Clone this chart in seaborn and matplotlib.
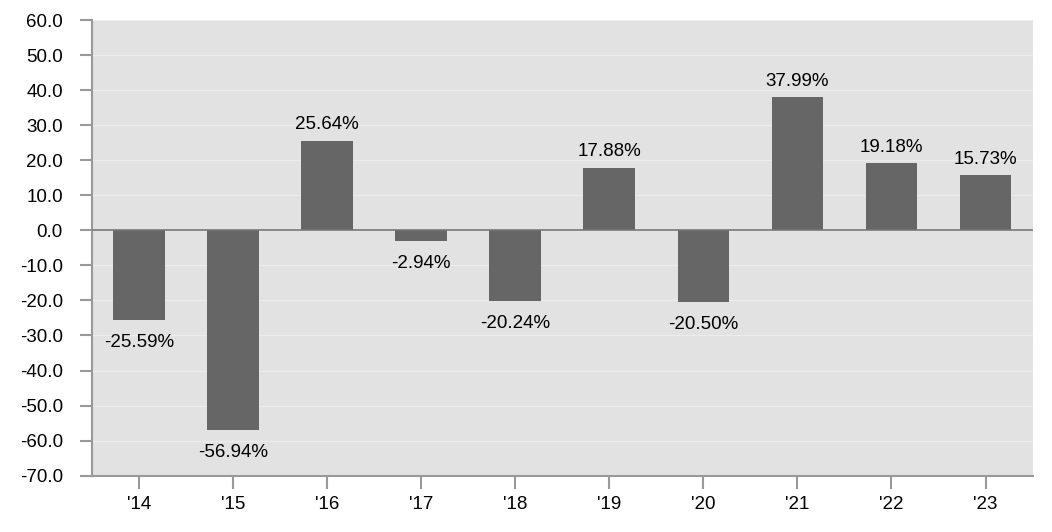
import pandas as pd
import matplotlib.pyplot as plt
import seaborn as sns

years = ["'14", "'15", "'16", "'17", "'18", "'19", "'20", "'21", "'22", "'23"]
returns = [-25.59, -56.94, 25.64, -2.94, -20.24, 17.88, -20.50, 37.99, 19.18, 15.73]

df = pd.DataFrame({"year": years, "ret": returns})

sns.set_style("whitegrid")
plt.rcParams["font.family"] = ["Liberation Sans", "DejaVu Sans"]

fig = plt.figure(figsize=(10.52, 5.32), dpi=100)
ax = fig.add_axes([0.0875, 0.106, 0.894, 0.856])
ax.set_facecolor("#e2e2e2")

sns.barplot(data=df, x="year", y="ret", color="#666666", width=0.55,
            saturation=1, edgecolor="none", linewidth=0, ax=ax, zorder=3)

for i, v in enumerate(returns):
    if v >= 0:
        ax.text(i, v + 2.2, f"{v:.2f}%", ha="center", va="bottom",
                fontsize=13.5, color="black")
    else:
        ax.text(i, v - 4.0, f"{v:.2f}%", ha="center", va="top",
                fontsize=13.5, color="black")

ax.axhline(0, color="#777777", lw=1.2, zorder=4)

ax.set_xlim(-0.5, 9.5)
ax.set_ylim(-70, 60)
ax.set_yticks(range(-70, 61, 10))
ax.set_yticklabels([f"{t:.1f}" for t in range(-70, 61, 10)])
ax.grid(axis="y", color="#ececec", lw=1, zorder=0)
ax.grid(axis="x", visible=False)
ax.set_xlabel("")
ax.set_ylabel("")

for side in ["top", "right"]:
    ax.spines[side].set_visible(False)
for side in ["left", "bottom"]:
    ax.spines[side].set_color("#999999")
    ax.spines[side].set_linewidth(1.5)

ax.tick_params(axis="both", which="both", length=9, width=1.5, color="#999999",
               direction="out", labelsize=13.5, labelcolor="black",
               left=True, bottom=True)
ax.tick_params(axis="y", pad=12)
ax.tick_params(axis="x", pad=6)

fig.savefig("out.png", dpi=100)
